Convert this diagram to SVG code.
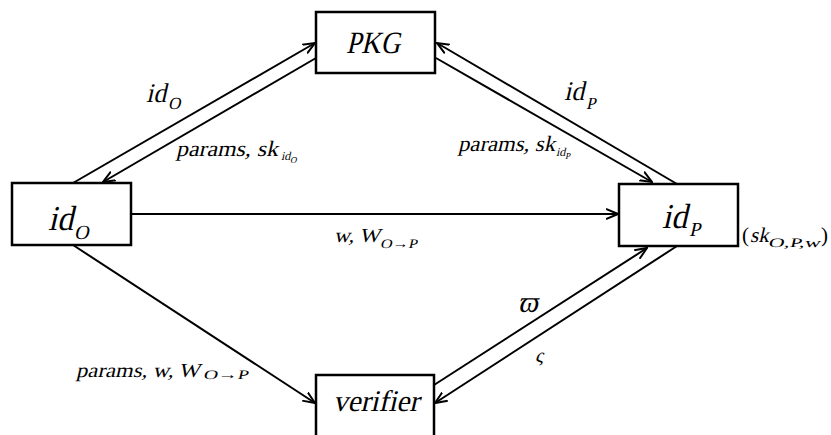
<svg xmlns="http://www.w3.org/2000/svg" width="831" height="435" viewBox="0 0 831 435">
<style>
.box{fill:#fff;stroke:#000;stroke-width:2.5}
.ln{stroke:#000;stroke-width:2;fill:none}
.arr{marker-end:url(#ah)}
</style>
<defs>
<marker id="ah" viewBox="0 0 13 12" refX="12" refY="6" markerWidth="13" markerHeight="12" markerUnits="userSpaceOnUse" orient="auto">
<path d="M0,1 L12,6 L0,11" fill="none" stroke="#000" stroke-width="2"/>
</marker>
</defs>
<rect width="831" height="435" fill="#fff"/>
<g id="connectors">
<line class="ln arr" x1="73" y1="183" x2="315" y2="43"/>
<line class="ln arr" x1="316" y1="58" x2="103" y2="182"/>
<line class="ln arr" x1="677" y1="184" x2="437" y2="43"/>
<line class="ln arr" x1="436" y1="58" x2="652" y2="182"/>
<line class="ln arr" x1="131" y1="214" x2="618" y2="214"/>
<line class="ln arr" x1="73" y1="245" x2="315" y2="403"/>
<line class="ln arr" x1="434" y1="385" x2="647" y2="248"/>
<line class="ln arr" x1="677" y1="246" x2="435" y2="403"/>
</g>
<g font-family="Liberation Serif" fill="#000">
<g id="node-pkg">
<rect class="box" x="316" y="12" width="119" height="61"/>
<text transform="translate(346,53) skewX(-13)" font-size="31" textLength="54" lengthAdjust="spacingAndGlyphs">PKG</text>
</g>
<g id="node-idO">
<rect class="box" x="12" y="183" width="119" height="62"/>
<text transform="translate(48,230) skewX(-13)" font-size="35" textLength="25" lengthAdjust="spacingAndGlyphs">id</text>
<text transform="translate(74,239) skewX(-13)" font-size="20">O</text>
</g>
<g id="node-idP">
<rect class="box" x="619" y="184" width="119" height="62"/>
<text transform="translate(662,228) skewX(-13)" font-size="35" textLength="25" lengthAdjust="spacingAndGlyphs">id</text>
<text transform="translate(689,236) skewX(-13)" font-size="20">P</text>
</g>
<g id="node-verifier">
<rect class="box" x="316" y="375" width="118" height="64"/>
<text transform="translate(333,411) skewX(-13)" font-size="30" textLength="86" lengthAdjust="spacingAndGlyphs">verifier</text>
</g>
<g id="labels">
<text transform="translate(146,102) skewX(-13)" font-size="27" textLength="20" lengthAdjust="spacingAndGlyphs">id</text>
<text transform="translate(168,109) skewX(-13)" font-size="17">O</text>
<text transform="translate(176,156) skewX(-13)" font-size="22" textLength="102" lengthAdjust="spacingAndGlyphs">params, sk</text>
<text transform="translate(281,160) skewX(-13)" font-size="12">id</text>
<text transform="translate(290,163) skewX(-13)" font-size="9">O</text>
<text transform="translate(564,100) skewX(-13)" font-size="27" textLength="20" lengthAdjust="spacingAndGlyphs">id</text>
<text transform="translate(586,109) skewX(-13)" font-size="17">P</text>
<text transform="translate(458,151) skewX(-13)" font-size="22" textLength="97" lengthAdjust="spacingAndGlyphs">params, sk</text>
<text transform="translate(556,156) skewX(-13)" font-size="12">id</text>
<text transform="translate(565,159) skewX(-13)" font-size="9">P</text>
<text transform="translate(334,242) skewX(-13)" font-size="20" textLength="46" lengthAdjust="spacingAndGlyphs">w, W</text>
<text transform="translate(380,248) skewX(-13)" font-size="13" textLength="37" lengthAdjust="spacingAndGlyphs">O→P</text>
<text transform="translate(76,377) skewX(-13)" font-size="20" textLength="124" lengthAdjust="spacingAndGlyphs">params, w, W</text>
<text transform="translate(203,379) skewX(-13)" font-size="13" textLength="45" lengthAdjust="spacingAndGlyphs">O→P</text>
<text x="742" y="242" font-size="21">(</text>
<text transform="translate(750,242) skewX(-13)" font-size="21">sk</text>
<text transform="translate(768,247) skewX(-13)" font-size="13" textLength="52" lengthAdjust="spacingAndGlyphs">O,P,w</text>
<text x="821" y="242" font-size="21">)</text>
<text transform="translate(518,312) skewX(-13)" font-size="30">ϖ</text>
<text transform="translate(535,362) skewX(-13)" font-size="20">ς</text>
</g>
</g>
</svg>
